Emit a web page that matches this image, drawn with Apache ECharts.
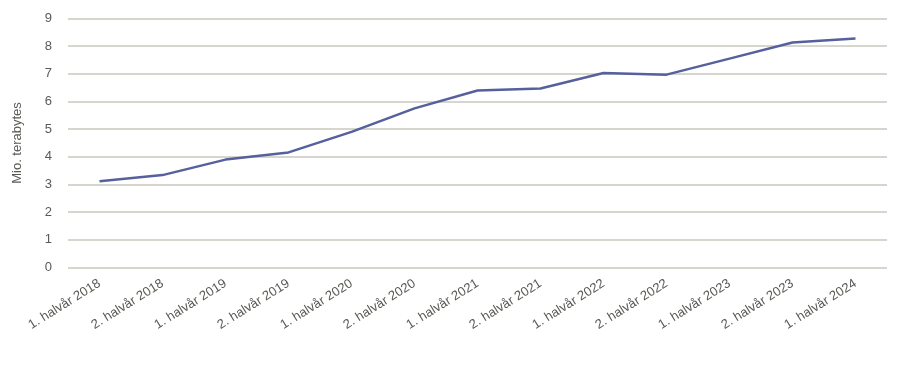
<!DOCTYPE html>
<html><head><meta charset="utf-8">
<script src="https://cdn.jsdelivr.net/npm/echarts@6/dist/echarts.min.js"></script>
<style>html,body{margin:0;padding:0;background:#fff}#c{width:900px;height:383px}</style>
</head><body><div id="c"></div>
<script>
const categories = ["1. halvår 2018","2. halvår 2018","1. halvår 2019","2. halvår 2019","1. halvår 2020","2. halvår 2020","1. halvår 2021","2. halvår 2021","1. halvår 2022","2. halvår 2022","1. halvår 2023","2. halvår 2023","1. halvår 2024"];
const values = [3.12, 3.34, 3.90, 4.16, 4.90, 5.75, 6.40, 6.47, 7.03, 6.97, 7.55, 8.13, 8.28];
const yAxisName = "Mio. terabytes";

const chart = echarts.init(document.getElementById('c'), null, {renderer:'canvas'});
chart.setOption({
  animation:false,
  grid:{left:68, right:13, top:18.5, bottom:115.5, containLabel:false},
  xAxis:{type:'category', data:categories, boundaryGap:true,
    axisLine:{show:false}, axisTick:{show:false},
    axisLabel:{rotate:32, interval:0, fontFamily:'Liberation Sans, Arial', fontSize:13, color:'#5a5a55', margin:15}},
  yAxis:{type:'value', min:0, max:9, interval:1,
    name:yAxisName, nameLocation:'middle', nameGap:44, nameRotate:90,
    nameTextStyle:{fontFamily:'Liberation Sans, Arial', fontSize:13, color:'#5a5a55'},
    axisLine:{show:false}, axisTick:{show:false},
    axisLabel:{fontFamily:'Liberation Sans, Arial', fontSize:13, color:'#5a5a55', margin:16},
    splitLine:{lineStyle:{color:'#c8c8be', width:1.5}}},
  series:[{type:'line', data:values, symbol:'none', smooth:false,
    lineStyle:{color:'#56609c', width:2.5}}]
});
</script></body></html>
